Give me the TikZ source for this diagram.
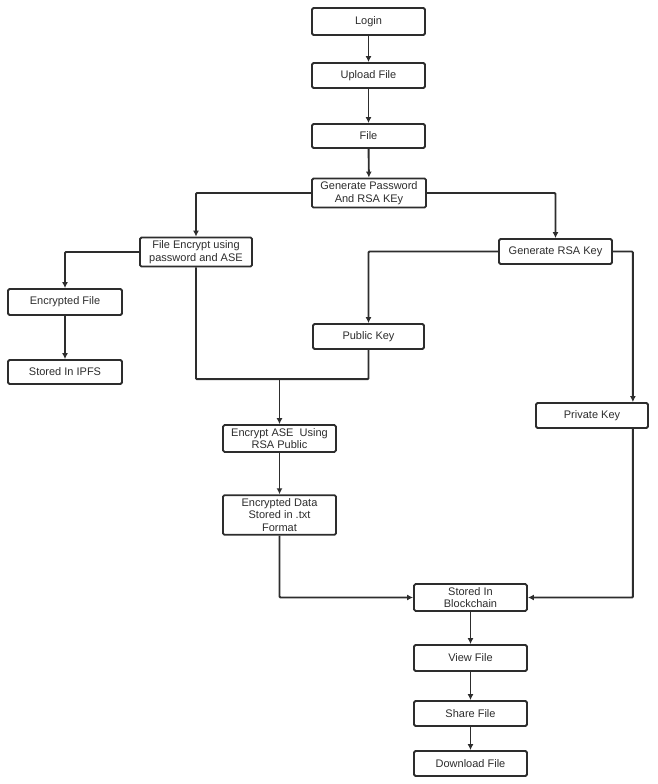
\documentclass[tikz,border=0pt]{standalone}
\usepackage{fontspec}
\setmainfont{Liberation Sans}
\usepackage{xcolor}
\usepackage{tikz}
\usetikzlibrary{positioning, arrows.meta, calc}
\definecolor{inkgray}{RGB}{45,45,45}
\tikzset{
  stepbox/.style={
    rectangle, draw=inkgray, line width=1.8pt, rounded corners=1.5pt,
    minimum width=113pt, minimum height=25pt, inner sep=3pt,
    align=center, text=inkgray, fill=white,
    font=\fontsize{11}{12.8}\selectfont
  },
  flow/.style={draw=inkgray, line width=1.9pt, -{Latex[length=6pt,width=6pt]}},
  joinline/.style={draw=inkgray, line width=1.9pt, rounded corners=1pt},
}
\begin{document}
\begin{tikzpicture}[x=1pt, y=-1pt]
  \useasboundingbox (0,0) rectangle (658,784);

  \node[stepbox, minimum height=27pt] (login) at (368.5,21.5) {Login};
  \node[stepbox] (upload) at (368.5,75.5) {Upload File};
  \node[stepbox, minimum height=24pt] (file) at (368.5,136) {File};
  \node[stepbox, minimum width=114pt] (genpw) at (369,193) {Generate Password\\And RSA KEy};
  \node[stepbox, minimum width=112pt] (fileenc) at (196,252) {File Encrypt using\\password and ASE};
  \node[stepbox] (genrsa) at (555.5,251.5) {Generate RSA Key};
  \node[stepbox, minimum width=114pt, minimum height=26pt] (encfile) at (65,302) {Encrypted File};
  \node[stepbox, minimum width=114pt, minimum height=24pt] (ipfs) at (65,372) {Stored In IPFS};
  \node[stepbox, minimum width=111pt] (pubkey) at (368.5,336.5) {Public Key};
  \node[stepbox, minimum width=112pt] (privkey) at (592,415.5) {Private Key};
  \node[stepbox] (encase) at (279.5,438.5) {Encrypt ASE\ \ Using\\RSA Public};
  \node[stepbox] (encdata) at (279.5,515) {Encrypted Data\\Stored in .txt\\Format};
  \node[stepbox] (chain) at (470.5,597.5) {Stored In\\Blockchain};
  \node[stepbox, minimum height=26pt] (view) at (470.5,658) {View File};
  \node[stepbox] (share) at (470.5,713.5) {Share File};
  \node[stepbox] (download) at (470.5,763.5) {Download File};

  \coordinate (join) at ($(encase.north)+(0,-45)$);
  \coordinate (privtap) at ($(privkey.south east)+(-16,0)$);

  \draw[flow] (login) -- (upload);
  \draw[flow] (upload) -- (file);
  \draw[flow] (file) -- (genpw);
  \draw[flow, rounded corners=1pt] (genpw.west) -| (fileenc.north);
  \draw[flow, rounded corners=1pt] (genpw.east) -| (genrsa.north);
  \draw[flow, rounded corners=1pt] (fileenc.west) -| (encfile.north);
  \draw[flow] (encfile) -- (ipfs);
  \draw[flow, rounded corners=1pt] (genrsa.west) -| (pubkey.north);
  \draw[flow, rounded corners=1pt] (genrsa.east) -| (privtap |- privkey.north);
  \draw[joinline] (fileenc.south) |- (pubkey.south |- join) -- (pubkey.south);
  \draw[flow] (join) -- (encase);
  \draw[flow] (encase) -- (encdata);
  \draw[flow, rounded corners=1pt] (encdata.south) |- (chain.west);
  \draw[flow, rounded corners=1pt] (privtap) |- (chain.east);
  \draw[flow] (chain) -- (view);
  \draw[flow] (view) -- (share);
  \draw[flow] (share) -- (download);
\end{tikzpicture}
\end{document}
